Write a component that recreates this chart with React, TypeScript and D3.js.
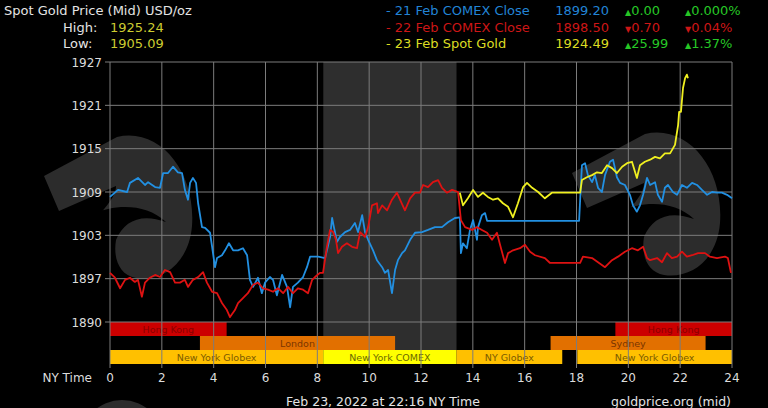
import { line, scaleLinear } from "d3";

// 21 Feb line (blue)
const blueHours = [0, 0.31, 0.66, 0.77, 1.08, 1.35, 1.47, 1.74, 1.93, 2.05, 2.24, 2.43, 2.62, 2.78, 2.89, 3.01, 3.09, 3.2, 3.32, 3.4, 3.55, 3.67, 3.86, 3.94, 4.05, 4.13, 4.32, 4.44, 4.59, 4.75, 4.94, 5.13, 5.29, 5.4, 5.52, 5.71, 5.86, 5.98, 6.17, 6.29, 6.44, 6.64, 6.83, 6.95, 7.06, 7.25, 7.45, 7.6, 7.72, 8.03, 8.3, 8.49, 8.57, 8.64, 8.76, 8.87, 9.07, 9.26, 9.45, 9.57, 9.73, 9.84, 9.96, 10.15, 10.3, 10.5, 10.61, 10.73, 10.88, 11.0, 11.11, 11.27, 11.38, 11.58, 11.77, 12.04, 12.27, 12.54, 12.81, 13.04, 13.31, 13.5, 13.54, 13.62, 13.77, 13.89, 14.01, 14.16, 14.2, 14.35, 14.47, 14.55, 18.1, 18.21, 18.33, 18.44, 18.6, 18.71, 18.83, 18.98, 19.1, 19.29, 19.41, 19.56, 19.68, 19.87, 20.06, 20.18, 20.33, 20.45, 20.57, 20.72, 20.84, 21.03, 21.14, 21.3, 21.41, 21.53, 21.72, 21.88, 22.07, 22.26, 22.46, 22.65, 22.84, 23.04, 23.23, 23.42, 23.61, 23.81, 24];
const bluePrices = [1907.8, 1908.8, 1908.5, 1909.8, 1910.5, 1909.5, 1909.9, 1909.2, 1909.1, 1911.2, 1911.2, 1912.1, 1911.3, 1911.2, 1908.8, 1907.4, 1909.8, 1910.5, 1909.8, 1906.9, 1903.5, 1903.4, 1902.7, 1900.7, 1897.8, 1899.1, 1899.5, 1900.2, 1901.2, 1900.2, 1900.2, 1900.5, 1899.5, 1896.0, 1895.0, 1896.3, 1894.1, 1895.6, 1896.4, 1896.0, 1893.8, 1896.7, 1895.0, 1892.1, 1895.0, 1895.6, 1896.4, 1897.8, 1899.3, 1899.3, 1899.1, 1902.1, 1904.8, 1903.5, 1901.4, 1902.1, 1902.8, 1903.1, 1904.1, 1902.8, 1905.2, 1902.8, 1901.7, 1900.2, 1898.8, 1897.8, 1897.0, 1897.4, 1894.1, 1897.4, 1898.8, 1899.8, 1900.2, 1901.7, 1902.7, 1902.8, 1903.1, 1903.5, 1903.5, 1904.2, 1904.8, 1904.9, 1899.8, 1901.2, 1900.5, 1903.1, 1904.5, 1901.7, 1903.5, 1905.2, 1905.5, 1904.4, 1904.4, 1912.3, 1912.6, 1910.9, 1909.9, 1910.9, 1909.1, 1908.5, 1910.9, 1912.8, 1913.1, 1910.6, 1909.8, 1909.5, 1908.1, 1906.6, 1905.7, 1906.6, 1908.1, 1910.5, 1909.5, 1909.9, 1908.1, 1907.1, 1909.1, 1909.5, 1908.5, 1908.1, 1909.5, 1909.1, 1909.8, 1909.5, 1908.8, 1908.1, 1908.5, 1908.4, 1908.4, 1908.1, 1907.6];

// 22 Feb line (red)
const redHours = [0, 0.19, 0.39, 0.58, 0.77, 0.96, 1.08, 1.23, 1.35, 1.54, 1.74, 1.93, 2.12, 2.32, 2.51, 2.7, 2.89, 3.01, 3.2, 3.4, 3.59, 3.74, 3.94, 4.13, 4.32, 4.51, 4.63, 4.82, 4.94, 5.13, 5.32, 5.52, 5.71, 5.9, 6.1, 6.29, 6.48, 6.68, 6.87, 7.06, 7.25, 7.45, 7.64, 7.8, 7.91, 8.1, 8.22, 8.37, 8.49, 8.61, 8.72, 8.8, 8.95, 9.14, 9.34, 9.53, 9.65, 9.84, 9.96, 10.11, 10.3, 10.34, 10.5, 10.69, 10.88, 11.07, 11.19, 11.38, 11.58, 11.77, 11.96, 12.08, 12.27, 12.46, 12.66, 12.81, 13.0, 13.2, 13.43, 13.54, 13.7, 13.97, 14.16, 14.35, 14.55, 14.74, 14.93, 15.05, 15.24, 15.36, 15.55, 15.82, 16.01, 16.21, 16.4, 16.78, 16.98, 18.14, 18.25, 18.6, 18.83, 19.1, 19.37, 19.6, 19.87, 20.14, 20.37, 20.57, 20.72, 20.84, 21.11, 21.3, 21.49, 21.68, 21.88, 22.07, 22.26, 22.46, 22.69, 22.96, 23.15, 23.42, 23.73, 23.84, 23.96];
const redPrices = [1897.0, 1896.3, 1894.8, 1896.0, 1896.3, 1895.7, 1896.0, 1893.6, 1895.6, 1896.3, 1896.7, 1896.4, 1897.4, 1897.1, 1895.6, 1895.6, 1896.0, 1895.0, 1896.0, 1896.4, 1897.1, 1895.6, 1894.3, 1894.1, 1892.7, 1891.7, 1890.7, 1891.7, 1892.7, 1893.4, 1894.1, 1895.3, 1895.6, 1894.8, 1894.6, 1894.3, 1894.8, 1894.1, 1895.0, 1894.1, 1894.8, 1894.6, 1894.1, 1896.0, 1896.4, 1897.0, 1897.0, 1900.7, 1903.1, 1902.8, 1901.7, 1899.8, 1900.7, 1901.2, 1900.7, 1900.5, 1902.8, 1902.1, 1903.5, 1906.6, 1906.9, 1905.5, 1906.6, 1905.9, 1907.4, 1908.4, 1907.4, 1905.9, 1907.6, 1908.4, 1908.4, 1909.5, 1909.2, 1909.9, 1910.2, 1909.1, 1908.4, 1908.8, 1908.5, 1904.5, 1903.5, 1903.1, 1903.5, 1903.1, 1902.7, 1901.7, 1902.7, 1901.0, 1898.4, 1899.8, 1900.2, 1900.5, 1901.0, 1900.0, 1899.5, 1899.1, 1898.4, 1898.4, 1899.3, 1899.1, 1898.5, 1897.8, 1898.8, 1899.3, 1900.0, 1900.5, 1900.2, 1900.7, 1899.1, 1898.8, 1899.1, 1898.5, 1899.8, 1899.1, 1899.3, 1900.0, 1899.3, 1899.5, 1899.8, 1899.8, 1899.3, 1899.1, 1899.3, 1899.1, 1897.0];

// 23 Feb spot (yellow)
const yellowHours = [13.5, 13.62, 13.81, 14.01, 14.2, 14.39, 14.58, 14.78, 14.97, 15.16, 15.36, 15.55, 15.74, 15.94, 16.09, 16.29, 16.52, 16.78, 17.05, 18.14, 18.21, 18.4, 18.6, 18.79, 18.98, 19.18, 19.37, 19.56, 19.76, 19.95, 20.14, 20.33, 20.45, 20.64, 20.84, 21.03, 21.22, 21.41, 21.61, 21.8, 21.92, 21.96, 22.03, 22.11, 22.19, 22.26, 22.3];
const yellowPrices = [1908.4, 1906.6, 1907.6, 1908.8, 1907.8, 1908.4, 1907.8, 1907.4, 1907.6, 1906.9, 1906.4, 1904.9, 1906.9, 1909.2, 1909.8, 1909.1, 1908.5, 1907.6, 1908.4, 1908.4, 1910.2, 1910.6, 1910.9, 1911.3, 1911.2, 1912.3, 1911.9, 1911.2, 1912.1, 1912.6, 1912.8, 1910.5, 1912.3, 1912.8, 1913.1, 1913.5, 1913.3, 1914.0, 1914.0, 1915.2, 1918.0, 1919.9, 1919.9, 1923.3, 1924.7, 1925.2, 1924.7];

const yTickLabels = ["1890", "1897", "1903", "1909", "1915", "1921", "1927"];
const xTicks = [0, 2, 4, 6, 8, 10, 12, 14, 16, 18, 20, 22, 24];

// market sessions
const sessionNames = ["Hong Kong", "London", "New York Globex", "New York COMEX", "NY Globex", "Sydney", "New York Globex", "Hong Kong"];
const sessionStarts = [0, 3.47, 0, 8.23, 13.37, 17.0, 18.03, 19.5];
const sessionEnds = [4.5, 11.0, 8.23, 13.37, 17.45, 22.98, 24, 24];
const sessionTracks = [0, 1, 2, 2, 2, 1, 2, 0];
const sessionKinds = ["hk", "eu", "globex", "comex", "globex", "eu", "globex", "hk"];

const legendLabels = ["- 21 Feb COMEX Close", "- 22 Feb COMEX Close", "- 23 Feb Spot Gold"];
const legendPrices = ["1899.20", "1898.50", "1924.49"];
const legendChanges = ["0.00", "0.70", "25.99"];
const legendPercents = ["0.000%", "0.04%", "1.37%"];
const legendUp = [true, false, true];

const statLabels = ["High:", "Low:"];
const statValues = ["1925.24", "1905.09"];

const W = 768;
const H = 408;
const LEFT = 110;
const RIGHT = 732;
const TOP = 62;
const PLOT_BOTTOM = 322;
const TRACK_H = 14;
const FONT = "'DejaVu Sans', Verdana, sans-serif";

const SERIES_COLORS = ["#2290e2", "#de1212", "#f0f020"];
const LEGEND_COLORS = ["#2284d6", "#cc1616", "#dcdc22"];
const UP = "#26c826";
const KIND_FILL: Record<string, string> = { hk: "#cc0000", eu: "#e27000", globex: "#ffc000", comex: "#ffff00" };
const KIND_TEXT: Record<string, string> = { hk: "#8a0000", eu: "#7a3500", globex: "#7a5a00", comex: "#6a6a00" };
const GRID = "#7c7c7c";
const MARK = "#2c2c2c";

const x = scaleLinear().domain([0, 24]).range([LEFT, RIGHT]);
const y = scaleLinear().domain([1890, 1927]).range([PLOT_BOTTOM, TOP]);
const yTickValues = yTickLabels.map((_, i) => 1890 + (i * (1927 - 1890)) / (yTickLabels.length - 1));

function pathFor(hours: number[], prices: number[]) {
  const mk = line<number>()
    .x((h) => x(h))
    .y((_, i) => y(prices[i]));
  return mk(hours) ?? "";
}

// background logo watermark
function Watermark({ dx, dy }: { dx: number; dy: number }) {
  return (
    <g transform={`translate(${dx},${dy})`}>
      <path
        fill={MARK}
        d="M44,176 L117,137 C160,127 196,172 192,226 C189,262 164,282 136,278 C119,275 113,258 116,240 C116,228 110,218 100,214 C112,200 116,193 116,186 L59,211 Z"
      />
      <path fill="#000" d="M92,214 C115,204 146,203 166,222 C142,213 124,220 116,240 C113,228 104,218 92,214 Z" />
    </g>
  );
}

export default function App() {
  const comexIdx = sessionKinds.indexOf("comex");
  const bandTop = PLOT_BOTTOM;
  const bandBottom = PLOT_BOTTOM + TRACK_H * 3;
  return (
    <svg
      width={W}
      height={H}
      viewBox={`0 0 ${W} ${H}`}
      style={{ position: "absolute", left: 0, top: 0, background: "#000" }}
      fontFamily={FONT}
    >
      <rect x={0} y={0} width={W} height={H} fill="#000" />
      <Watermark dx={0} dy={0} />
      <Watermark dx={528} dy={-3} />
      <circle cx={122} cy={442} r={42} fill={MARK} />

      {/* COMEX hours shading */}
      <rect
        x={x(sessionStarts[comexIdx])}
        y={TOP}
        width={x(sessionEnds[comexIdx]) - x(sessionStarts[comexIdx])}
        height={bandBottom - TOP}
        fill="#2e2e2e"
      />

      {/* session bars */}
      {sessionNames.map((name, i) => {
        const x0 = x(sessionStarts[i]);
        const x1 = x(sessionEnds[i]);
        const yy = bandTop + sessionTracks[i] * TRACK_H;
        return (
          <g key={i}>
            <rect x={x0} y={yy} width={x1 - x0} height={TRACK_H} fill={KIND_FILL[sessionKinds[i]]} />
            <text
              x={(x0 + x1) / 2}
              y={yy + TRACK_H / 2 + 3.5}
              textAnchor="middle"
              fontSize={9.5}
              fill={KIND_TEXT[sessionKinds[i]]}
            >
              {name}
            </text>
          </g>
        );
      })}

      {/* grid */}
      {yTickValues.map((v, i) => (
        <g key={`y${i}`}>
          <line x1={LEFT - 5} x2={RIGHT} y1={y(v)} y2={y(v)} stroke={GRID} strokeWidth={1} />
          <text x={LEFT - 8} y={y(v) + 4.5} textAnchor="end" fontSize={12} fill="#dcdcdc">
            {yTickLabels[i]}
          </text>
        </g>
      ))}
      {xTicks.map((t) => (
        <g key={`x${t}`}>
          <line x1={x(t)} x2={x(t)} y1={TOP} y2={bandBottom + 4} stroke={GRID} strokeWidth={1} />
          <text x={x(t)} y={382} textAnchor="middle" fontSize={12} fill="#dcdcdc">
            {t}
          </text>
        </g>
      ))}
      <text x={92} y={382} textAnchor="end" fontSize={12} fill="#dcdcdc">
        NY Time
      </text>

      {/* price lines */}
      <g fill="none" strokeWidth={1.8} strokeLinejoin="round">
        <path d={pathFor(blueHours, bluePrices)} stroke={SERIES_COLORS[0]} />
        <path d={pathFor(redHours, redPrices)} stroke={SERIES_COLORS[1]} />
        <path d={pathFor(yellowHours, yellowPrices)} stroke={SERIES_COLORS[2]} />
      </g>

      {/* header */}
      <text x={4} y={15} fontSize={13} fill="#e4e4e4">
        Spot Gold Price (Mid) USD/oz
      </text>
      {statLabels.map((lab, i) => (
        <g key={lab}>
          <text x={63} y={31.5 + i * 16.5} fontSize={13} fill="#e4e4e4">
            {lab}
          </text>
          <text x={110} y={31.5 + i * 16.5} fontSize={13} fill="#cccc30">
            {statValues[i]}
          </text>
        </g>
      ))}

      {/* legend */}
      {legendLabels.map((lab, i) => {
        const yy = 15 + i * 16.5;
        const arrow = legendUp[i] ? "▲" : "▼";
        const chColor = legendUp[i] ? UP : LEGEND_COLORS[1];
        return (
          <g key={lab} fontSize={13}>
            <text x={386} y={yy} fill={LEGEND_COLORS[i]}>
              {lab}
            </text>
            <text x={609} y={yy} textAnchor="end" fill={LEGEND_COLORS[i]}>
              {legendPrices[i]}
            </text>
            <text x={625} y={yy} fill={chColor}>
              <tspan fontSize={8}>{arrow}</tspan>
              {legendChanges[i]}
            </text>
            <text x={685} y={yy} fill={chColor}>
              <tspan fontSize={8}>{arrow}</tspan>
              {legendPercents[i]}
            </text>
          </g>
        );
      })}

      {/* footer */}
      <text x={383} y={406} textAnchor="middle" fontSize={12.5} fill="#e4e4e4">
        Feb 23, 2022 at 22:16 NY Time
      </text>
      <text x={731} y={406} textAnchor="end" fontSize={12.5} fill="#e4e4e4">
        goldprice.org (mid)
      </text>
    </svg>
  );
}
